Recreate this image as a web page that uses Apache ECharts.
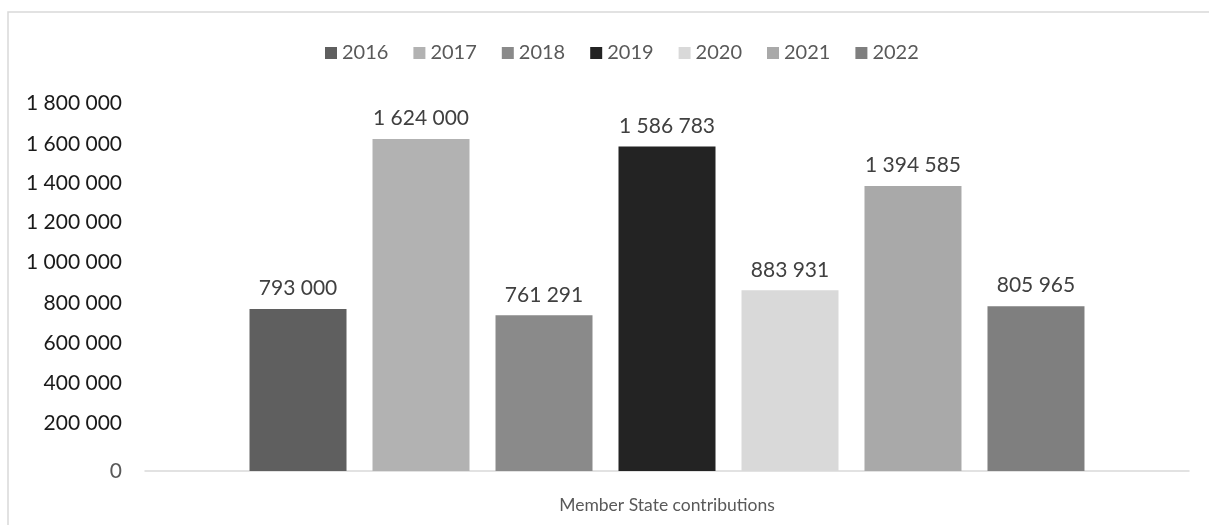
<!DOCTYPE html>
<html>
<head>
<meta charset="utf-8">
<title>Member State contributions</title>
<script src="https://cdn.jsdelivr.net/npm/echarts@6/dist/echarts.min.js"></script>
<style>
  html, body { margin: 0; padding: 0; background: #ffffff; }
  #chart { width: 1209px; height: 525px; }
</style>
</head>
<body>
<div id="chart"></div>
<script>
// Contributions per year, one series per year
const categories = ['Member State contributions'];
const years = ['2016', '2017', '2018', '2019', '2020', '2021', '2022'];
const contributions = [793000, 1624000, 761291, 1586783, 883931, 1394585, 805965];
const yTicks = [0, 200000, 400000, 600000, 800000, 1000000, 1200000, 1400000, 1600000, 1800000];

const barColors = ['#5f5f5f', '#b2b2b2', '#8a8a8a', '#232323', '#d9d9d9', '#a9a9a9', '#7f7f7f'];
const FONT = 'Lato, "Open Sans", sans-serif';
// Upward nudge (px) of each value-axis label, bottom to top
const yLabelLift = [0, 7, 6, 5, 4, 4, 3, 2, 0, 0];

// "1 624 000" style grouping
function fmt(v) {
  return String(Math.round(v)).replace(/\B(?=(\d{3})+(?!\d))/g, ' ');
}

const series = years.map((y, i) => ({
  name: y,
  type: 'bar',
  data: [contributions[i]],
  barWidth: 97,
  barGap: '26.8%',
  itemStyle: { color: barColors[i] },
  label: {
    show: true,
    position: 'top',
    distance: 10,
    formatter: p => fmt(p.value),
    color: '#404040',
    fontFamily: FONT,
    fontSize: 21
  }
}));

// one rich style per tick so each label can sit at its own height
const yRich = {};
yTicks.forEach((t, i) => {
  yRich['t' + i] = {
    color: t === 0 ? '#595959' : '#1a1a1a',
    fontFamily: FONT,
    fontSize: 21,
    padding: [0, 0, yLabelLift[i] * 2, 0]
  };
});

const chart = echarts.init(document.getElementById('chart'), null, { renderer: 'canvas' });
chart.setOption({
  animation: false,
  backgroundColor: '#ffffff',
  graphic: [{
    type: 'rect',
    shape: { x: 8, y: 12, width: 1400, height: 700 },
    style: { fill: 'none', stroke: '#d9d9d9', lineWidth: 1.5 },
    silent: true,
    z: -1
  }],
  legend: {
    data: years,
    top: 38,
    left: 320,
    itemWidth: 12,
    itemHeight: 12,
    itemGap: 25,
    icon: 'rect',
    textStyle: { color: '#595959', fontFamily: FONT, fontSize: 20 }
  },
  grid: { left: 145, right: 20, top: 103, bottom: 54, containLabel: false },
  xAxis: {
    type: 'category',
    data: categories,
    axisLine: { show: true, lineStyle: { color: '#d9d9d9', width: 1.5 } },
    axisTick: { show: false },
    axisLabel: {
      show: true,
      margin: 25,
      color: '#595959',
      fontFamily: FONT,
      fontSize: 17.5
    }
  },
  yAxis: {
    type: 'value',
    min: yTicks[0],
    max: yTicks[yTicks.length - 1],
    interval: yTicks[1] - yTicks[0],
    splitLine: { show: false },
    axisLine: { show: false },
    axisTick: { show: false },
    axisLabel: {
      margin: 23,
      fontFamily: FONT,
      fontSize: 21,
      formatter: v => {
        const i = yTicks.indexOf(v);
        return '{t' + i + '|' + fmt(v) + '}';
      },
      rich: yRich
    }
  },
  series: series
});
</script>
</body>
</html>
